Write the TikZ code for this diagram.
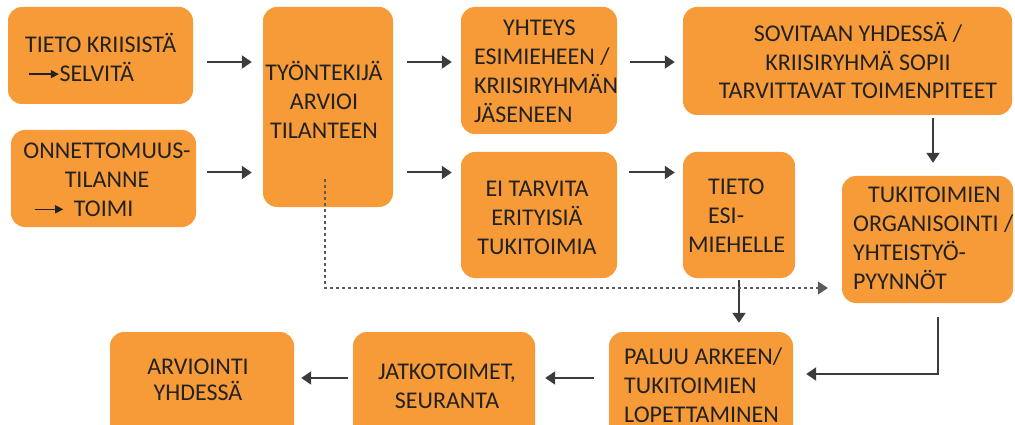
\documentclass[tikz,border=0pt]{standalone}
\usepackage{fontspec}
\setmainfont{Carlito}
\usetikzlibrary{arrows.meta,calc}
\definecolor{boxorange}{HTML}{F79A38}
\definecolor{txtgray}{HTML}{222222}
\definecolor{arrgray}{HTML}{3C3C3C}
\definecolor{dashgray}{HTML}{5A5A5A}
\newcommand{\tarr}[1][30]{\tikz[x=1pt,y=1pt,baseline=0pt]\draw[line width=1.3pt,txtgray,-{Triangle[length=8pt,width=8pt]}] (0,7.4)--(#1,7.4);}
\begin{document}
\begin{tikzpicture}[x=1pt,y=-1pt,
  box/.style={fill=boxorange, draw=none, rounded corners=14pt, inner sep=0pt},
  lbl/.style={inner sep=0pt, text=txtgray, font=\fontsize{24}{29}\selectfont},
  arr/.style={draw=arrgray, line width=2pt, -{Triangle[length=10pt,width=13pt]}},
  dashconn/.style={draw=dashgray, line width=1.1pt, dash pattern=on 3pt off 3pt, -{Triangle[length=10pt,width=13pt]}}]

\useasboundingbox (0,0) rectangle (1015,425);
\fill[white] (0,0) rectangle (1015,425);
\clip (0,0) rectangle (1015,425);

% boxes
\node[box, minimum width=185pt, minimum height=97pt]  (A) at (100.5,55.5) {};
\node[box, minimum width=185pt, minimum height=97pt]  (B) at (103.5,178.5) {};
\node[box, minimum width=130pt, minimum height=200pt] (C) at (328,107) {};
\node[box, minimum width=156pt, minimum height=127pt] (D) at (539,70.5) {};
\node[box, minimum width=329pt, minimum height=108pt] (E) at (847.5,61) {};
\node[box, minimum width=171pt, minimum height=127pt] (F) at (927.5,239.5) {};
\node[box, minimum width=156pt, minimum height=126pt] (G) at (539,215) {};
\node[box, minimum width=112pt, minimum height=126pt] (H) at (739,215) {};
\node[box, minimum width=184pt, minimum height=118pt] (I) at (701,391) {};
\node[box, minimum width=182pt, minimum height=118pt] (J) at (444,391) {};
\node[box, minimum width=184pt, minimum height=118pt] (K) at (202,391) {};

% texts
\node[lbl, anchor=west, align=left] (tA) at (25,57.5) {TIETO KRIISISTÄ\\\hspace*{3pt}\tarr SELVITÄ};
\node[lbl, align=center] (tB) at (107,180) {ONNETTOMUUS-\\TILANNE\\\tarr[28]\hspace{10pt}TOIMI\hspace*{46pt}};
\node[lbl, align=center] (tC) at (324,100) {TYÖNTEKIJÄ\\ARVIOI\\TILANTEEN};
\node[lbl, anchor=west, align=left] (tD) at (474,71.5) {\hspace*{29pt}YHTEYS\\ESIMIEHEEN /\\KRIISIRYHMÄN\\JÄSENEEN};
\node[lbl, align=center, font=\fontsize{24}{28.5}\selectfont] (tE) at (858,60.7) {SOVITAAN YHDESSÄ /\\KRIISIRYHMÄ SOPII\\TARVITTAVAT TOIMENPITEET};
\node[lbl, anchor=west, align=left] (tF) at (853,238.5) {\hspace*{15pt}TUKITOIMIEN\\ORGANISOINTI /\\YHTEISTYÖ-\\PYYNNÖT};
\node[lbl, align=center] (tG) at (537,218) {EI TARVITA\\ERITYISIÄ\\TUKITOIMIA};
\node[lbl, anchor=west, align=left] (tH) at (688,216) {\hspace*{20pt}TIETO\\\hspace*{20pt}ESI-\\MIEHELLE};
\node[lbl, anchor=west, align=left] (tI) at (624,385) {PALUU ARKEEN/\\TUKITOIMIEN\\LOPETTAMINEN};
\node[lbl, align=center] (tJ) at (447,386.5) {JATKOTOIMET,\\SEURANTA};
\node[lbl, align=center, font=\fontsize{24}{26}\selectfont] (tK) at (198,380) {ARVIOINTI\\YHDESSÄ};

% helper coordinates
\coordinate (r1) at (0,62);
\coordinate (r2) at (0,172.5);
\coordinate (r3) at (0,378);
\coordinate (r4) at (0,374);
\coordinate (c1) at (933,0);
\coordinate (c2) at (739,0);
\coordinate (c3) at (938,0);

% connectors
\draw[arr, shorten <=14pt, shorten >=11pt] (A.east |- r1) -- (C.west |- r1);
\draw[arr, shorten <=11pt, shorten >=11pt] (B.east |- r2) -- (C.west |- r2);
\draw[arr, shorten <=14pt, shorten >=9pt] (C.east |- r1) -- (D.west |- r1);
\draw[arr, shorten <=14pt, shorten >=9pt] (C.east |- r2) -- (G.west |- r2);
\draw[arr, shorten <=13pt, shorten >=8pt] (D.east |- r1) -- (E.west |- r1);
\draw[arr, shorten <=12pt, shorten >=8pt] (G.east |- r2) -- (H.west |- r2);
\draw[arr, shorten <=3pt, shorten >=13pt] (E.south -| c1) -- (F.north -| c1);
\draw[arr, shorten <=2pt, shorten >=9pt] (H.south -| c2) -- (I.north -| c2);
\draw[arr, shorten >=13pt] ($(F.south -| c3)+(0,14)$) |- (I.east |- r4);
\draw[arr, shorten <=15pt, shorten >=10pt] (I.west |- r3) -- (J.east |- r3);
\draw[arr, shorten <=5pt, shorten >=7pt] (J.west |- r3) -- (K.east |- r3);

\coordinate (dtop) at (325,179);
\coordinate (dcorner) at (325,288);
\draw[dashconn, shorten >=14pt] (dtop) -- (dcorner) -- (F.west |- dcorner);
\end{tikzpicture}
\end{document}
